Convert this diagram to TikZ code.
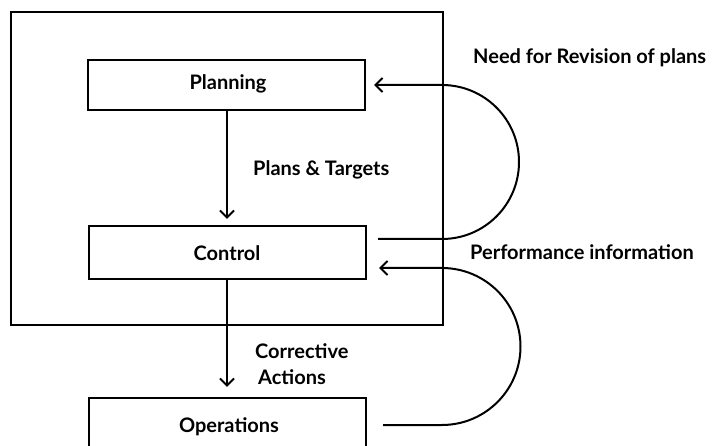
\documentclass[tikz,border=0pt]{standalone}
\usepackage{fontspec}
\setmainfont{Lato}
\usetikzlibrary{arrows.meta}
\tikzset{
  box/.style={draw, line width=2.2pt, minimum width=277pt, inner sep=0pt},
  lbl/.style={font=\fontsize{20}{26}\selectfont\bfseries, inner sep=0pt},
  conn/.style={line width=2pt, -{Straight Barb[length=7pt,width=14pt,line width=2pt]}},
}
\begin{document}
\begin{tikzpicture}[x=1pt,y=-1pt]
\useasboundingbox (0,0) rectangle (715,446);
\clip (0,0) rectangle (715,446);
\fill[white] (0,0) rectangle (715,446);
% outer frame
\node[draw, line width=2.2pt, minimum width=432pt, minimum height=313pt, inner sep=0pt] (frame) at (227,168.5) {};
% boxes
\node[box, minimum height=50pt] (planning) at (226.5,85) {};
\node[lbl] at (228,84) {Planning};
\node[box, minimum height=53pt] (control) at (227.5,252.5) {};
\node[lbl] at (227,253) {Control};
\node[box, minimum height=60pt] (operations) at (227.5,428) {};
\node[lbl] at (229,427) {Operations};
% vertical arrows
\draw[conn, shorten >=6pt] (planning.south -| 227,0) -- (control.north -| 227,0);
\draw[conn, shorten >=10pt] (control.south -| 227,0) -- (operations.north -| 227,0);
% labels
\node[lbl, anchor=west] (pt) at (253,170) {Plans \& Targets};
\node[lbl, align=left, anchor=west] (ca) at (255,364) {Corrective\\\hspace*{3pt}Actions};
\node[lbl, anchor=west] (need) at (473,58) {Need for Revision of plans};
\node[lbl, anchor=west] (perf) at (470,252) {Performance information};
% feedback loops
\coordinate (f1s) at ([shift={(11,-13.5)}]control.east);
\coordinate (f1e) at ([shift={(8,0)}]planning.east);
\draw[conn] (f1s) -- (442,239) arc[start angle=90, end angle=-90, radius=77] -- (f1e);
\coordinate (f2s) at ([shift={(16,-3)}]operations.east);
\coordinate (f2e) at ([shift={(12,15.5)}]control.east);
\draw[conn] (f2s) -- (442,425) arc[start angle=90, end angle=-90, radius=78.5] -- (f2e);
\end{tikzpicture}
\end{document}
